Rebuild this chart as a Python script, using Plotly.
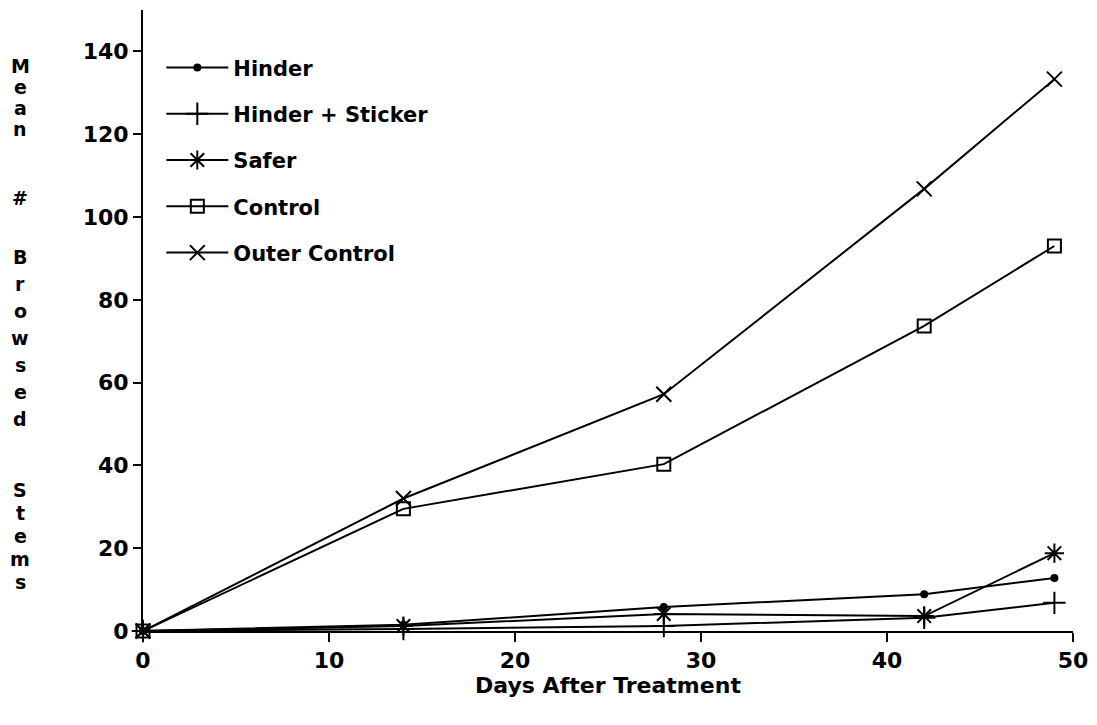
import plotly.graph_objects as go

days = [0, 14, 28, 42, 49]
hinder = [0, 1.5, 5.8, 8.9, 12.8]
hinder_sticker = [0, 0.5, 1.2, 3.2, 6.8]
safer = [0, 1.2, 4.1, 3.6, 18.8]
control = [0, 29.5, 40.3, 73.7, 93.0]
outer_control = [0, 32.0, 57.2, 106.8, 133.3]

series = [
    ("Hinder", hinder, "circle", 6),
    ("Hinder + Sticker", hinder_sticker, "cross-thin-open", 16),
    ("Safer", safer, "asterisk-open", 16),
    ("Control", control, "square-open", 13),
    ("Outer Control", outer_control, "x-thin-open", 15),
]

FONT = "DejaVu Sans"
W, H = 1081, 709
L, R, T, B = 135, 16, 2, 86
PW = W - L - R
PH = H - T - B

fig = go.Figure()
for i, (name, vals, sym, sz) in enumerate(series):
    fig.add_trace(go.Scatter(
        x=days, y=vals, name=name, mode="lines+markers",
        line=dict(color="black", width=2),
        marker=dict(symbol=sym, size=sz, color="black",
                    line=dict(color="black", width=2)),
        cliponaxis=False, legendgroup=f"g{i}",
    ))

ylabel_letters = [("M", 66), ("e", 87), ("a", 108), ("n", 129), ("#", 198),
                  ("B", 257), ("r", 284), ("o", 311), ("w", 338), ("s", 365),
                  ("e", 392), ("d", 419), ("S", 490), ("t", 513), ("e", 536),
                  ("m", 559), ("s", 582)]
annotations = []
for ch, py in ylabel_letters:
    sx, sy = 20 - 8, py - 8
    annotations.append(dict(text=ch, xref="paper", yref="paper",
                            x=(sx - L) / PW, y=(T + PH - sy) / PH,
                            xanchor="center", yanchor="middle", showarrow=False,
                            font=dict(family=FONT, size=19, color="black", weight="bold")))

fig.update_layout(
    width=W, height=H,
    margin=dict(l=L, r=R, t=T, b=B),
    paper_bgcolor="white", plot_bgcolor="white",
    font=dict(family=FONT, color="black", size=22, weight="bold"),
    showlegend=True,
    legend=dict(x=0.0197, y=0.940, xanchor="left", yanchor="top",
                font=dict(family=FONT, size=21, color="black", weight="bold"),
                tracegroupgap=16, itemwidth=62, bgcolor="rgba(0,0,0,0)"),
    annotations=annotations,
    xaxis=dict(range=[0, 50], tickvals=[0, 10, 20, 30, 40, 50],
               showgrid=False, zeroline=False, showline=True, linecolor="black",
               linewidth=2, ticks="outside", ticklen=9, tickwidth=2, tickcolor="black",
               tickfont=dict(family=FONT, size=22, color="black", weight="bold"),
               title=dict(text="Days After Treatment", standoff=3,
                          font=dict(family=FONT, size=22, color="black", weight="bold"))),
    yaxis=dict(range=[0, 150], tickvals=[0, 20, 40, 60, 80, 100, 120, 140],
               showgrid=False, zeroline=False, showline=True, linecolor="black",
               linewidth=2, ticks="outside", ticklen=8, tickwidth=2, tickcolor="black",
               tickfont=dict(family=FONT, size=22, color="black", weight="bold")),
)

fig.write_html("out.html")
